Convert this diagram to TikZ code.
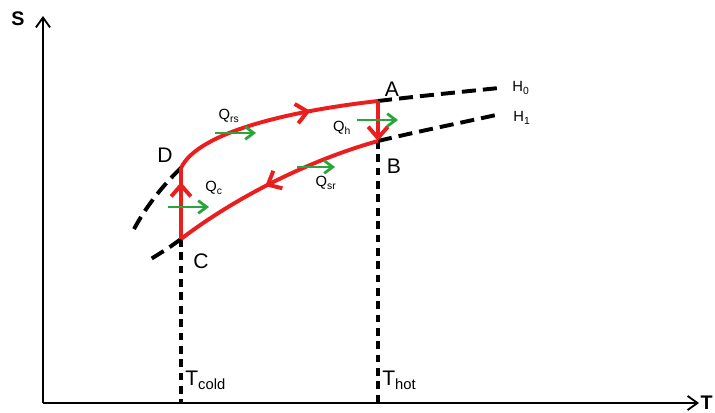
\documentclass[tikz,border=0pt]{standalone}
\usepackage{fontspec}
\setmainfont{Liberation Sans}
\usetikzlibrary{arrows.meta, positioning, decorations.markings}
\definecolor{cyclecolor}{RGB}{235, 30, 30}
\definecolor{heatcolor}{RGB}{40, 165, 60}
\tikzset{
  axisarr/.style={-{Straight Barb[length=7pt, width=10pt]}, line width=1.3pt, black},
  cycline/.style={line width=2.8pt, color=cyclecolor},
  cycarr/.style={cycline, -{Straight Barb[length=8pt, width=14pt, line width=2.8pt]}},
  midarr/.style={cycline, postaction={decorate}, decoration={markings,
      mark=at position #1 with {\arrow{Straight Barb[length=8pt, width=14pt, line width=2.8pt]}}}},
  heatarr/.style={-{Straight Barb[length=6pt, width=9pt]}, line width=2pt, color=heatcolor},
  isoline/.style={line width=2.8pt, dash pattern=on 10pt off 5pt, black},
  guideline/.style={line width=2.2pt, dash pattern=on 5.5pt off 4pt, black},
  ptlabel/.style={font=\fontsize{15}{18}\selectfont, inner sep=0pt},
  qlabel/.style={font=\fontsize{10.5}{12}\selectfont, inner sep=0pt},
  axlabel/.style={font=\fontsize{14}{16}\selectfont\bfseries, inner sep=0pt}
}
\begin{document}
\begin{tikzpicture}[x=0.025cm, y=-0.025cm]
  \useasboundingbox (0,0) rectangle (715,413);

  % axes
  \coordinate (O)    at (43,403);
  \coordinate (ytop) at (43,16);
  \coordinate (xend) at (699,403);
  \draw[axisarr] (O) -- (ytop);
  \draw[axisarr] (O) -- (xend);
  \node[axlabel] (slab) at (18,19) {S};
  \node[axlabel, anchor=east] (tlab) at (713,403) {T};

  % cycle corners
  \coordinate (A) at (378,101);
  \coordinate (B) at (378,141);
  \coordinate (C) at (181,239);
  \coordinate (D) at (181,168);
  \coordinate (Cb) at (181,403);
  \coordinate (Bb) at (378,403);

  % isenthalps
  \draw[isoline] (A) .. controls (420,96) and (460,92) .. (499,88);
  \draw[isoline] (B) .. controls (420,131) and (460,123) .. (496,115);
  \draw[isoline] (D) .. controls (165,183) and (145,207) .. (132,233);
  \draw[isoline] (C) .. controls (169,248) and (159,254) .. (146,262);
  \node[qlabel] (h0) at (521,88)  {H\textsubscript{0}};
  \node[qlabel] (h1) at (522,118) {H\textsubscript{1}};

  % temperature guides
  \draw[guideline] (C) -- (Cb);
  \draw[guideline] (B) -- (Bb);
  \node[ptlabel, anchor=west] (tcold) at (185,380) {T\textsubscript{cold}};
  \node[ptlabel, anchor=west] (thot)  at (382,380) {T\textsubscript{hot}};

  % cycle
  \draw[midarr=0.68] (D) .. controls (198,132) and (290,111) .. (A);
  \draw[cycarr] (A) -- (B);
  \draw[midarr=0.55] (B) .. controls (300,163) and (228,203) .. (C);
  \draw[midarr=0.8] (C) -- (D);

  \node[ptlabel] (alab) at (392,89)  {A};
  \node[ptlabel] (blab) at (394,166) {B};
  \node[ptlabel] (clab) at (201,261) {C};
  \node[ptlabel] (dlab) at (165,155) {D};

  % heat flows
  \coordinate (qrs0) at (215,133); \coordinate (qrs1) at (256,133);
  \coordinate (qh0)  at (357,120); \coordinate (qh1)  at (398,120);
  \coordinate (qsr0) at (297,167); \coordinate (qsr1) at (335,167);
  \coordinate (qc0)  at (168,207); \coordinate (qc1)  at (209,207);
  \draw[heatarr] (qrs0) -- (qrs1);
  \draw[heatarr] (qh0)  -- (qh1);
  \draw[heatarr] (qsr0) -- (qsr1);
  \draw[heatarr] (qc0)  -- (qc1);
  \node[qlabel] (qrs) at (229,116) {Q\textsubscript{rs}};
  \node[qlabel] (qh)  at (342,128) {Q\textsubscript{h}};
  \node[qlabel] (qsr) at (326,183) {Q\textsubscript{sr}};
  \node[qlabel] (qc)  at (214,188) {Q\textsubscript{c}};

\end{tikzpicture}
\end{document}
